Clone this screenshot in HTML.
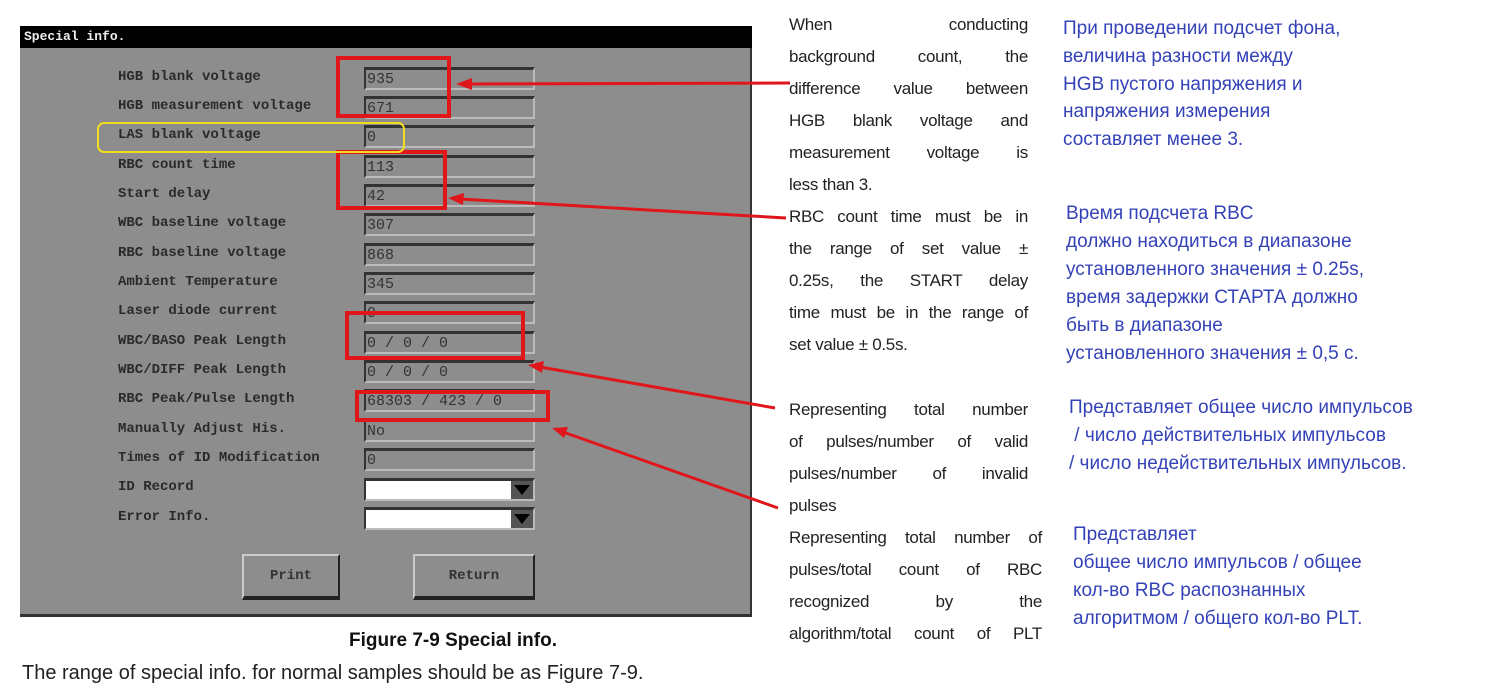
<!DOCTYPE html>
<html><head><meta charset="utf-8"><style>
body{margin:0;width:1500px;height:688px;background:#fff;position:relative;overflow:hidden;font-family:"Liberation Sans",sans-serif}
.p{position:absolute;left:20px;top:26px;width:732px;height:591px;background:#8d8d8d;border-bottom:3px solid #333;border-right:2px solid #333;box-sizing:border-box}
.tb{position:absolute;left:20px;top:26px;width:732px;height:22px;background:#000;color:#eee;font:bold 13px "Liberation Mono",monospace;line-height:22px;padding-left:4px;box-sizing:border-box}
.l{position:absolute;left:118px;font:bold 14px "Liberation Mono",monospace;color:#2a2a2a;line-height:16px}
.f{position:absolute;left:364px;width:171px;height:23px;box-sizing:border-box;border-top:3px solid #333;border-left:2px solid #333;border-bottom:2px solid #bbb;border-right:2px solid #bbb;font:15px "Liberation Mono",monospace;color:#333;line-height:19px;padding-left:1px}
.w{background:#fff}
.dd{position:absolute;right:0;top:0;width:22px;height:18px;background:#555}
.dd:after{content:"";position:absolute;left:3px;top:4px;border-left:8px solid transparent;border-right:8px solid transparent;border-top:10px solid #000}
.b{position:absolute;top:554px;height:46px;box-sizing:border-box;background:#8d8d8d;border:2px solid #ccc;border-right-color:#222;border-bottom:4px solid #222;font:bold 14px "Liberation Mono",monospace;color:#333;text-align:center;line-height:40px}
.e{position:absolute;left:789px;width:239px;font-size:17px;color:#222;text-align:justify;text-align-last:justify;letter-spacing:-0.3px;line-height:20px;white-space:nowrap}
.e.x{width:253px}
.e.n{text-align-last:left}
.r{position:absolute;font-size:19px;color:#3442b8;line-height:22px;white-space:nowrap}
.rb{position:absolute;border:4px solid #e0161b;box-sizing:border-box}
</style></head><body>
<div class="p"></div>
<div class="tb">Special info.</div>

<div class="l" style="top:69px">HGB blank voltage</div>
<div class="l" style="top:98px">HGB measurement voltage</div>
<div class="l" style="top:127px">LAS blank voltage</div>
<div class="l" style="top:157px">RBC count time</div>
<div class="l" style="top:186px">Start delay</div>
<div class="l" style="top:215px">WBC baseline voltage</div>
<div class="l" style="top:245px">RBC baseline voltage</div>
<div class="l" style="top:274px">Ambient Temperature</div>
<div class="l" style="top:303px">Laser diode current</div>
<div class="l" style="top:333px">WBC/BASO Peak Length</div>
<div class="l" style="top:362px">WBC/DIFF Peak Length</div>
<div class="l" style="top:391px">RBC Peak/Pulse Length</div>
<div class="l" style="top:421px">Manually Adjust His.</div>
<div class="l" style="top:450px">Times of ID Modification</div>
<div class="l" style="top:479px">ID Record</div>
<div class="l" style="top:509px">Error Info.</div>

<div class="f" style="top:67px">935</div>
<div class="f" style="top:96px">671</div>
<div class="f" style="top:125px">0</div>
<div class="f" style="top:155px">113</div>
<div class="f" style="top:184px">42</div>
<div class="f" style="top:213px">307</div>
<div class="f" style="top:243px">868</div>
<div class="f" style="top:272px">345</div>
<div class="f" style="top:301px">0</div>
<div class="f" style="top:331px">0 / 0 / 0</div>
<div class="f" style="top:360px">0 / 0 / 0</div>
<div class="f" style="top:389px">68303 / 423 / 0</div>
<div class="f" style="top:419px">No</div>
<div class="f" style="top:448px">0</div>
<div class="f w" style="top:478px"><div class="dd"></div></div>
<div class="f w" style="top:507px"><div class="dd"></div></div>

<div class="b" style="left:242px;width:98px">Print</div>
<div class="b" style="left:413px;width:122px">Return</div>

<div class="rb" style="left:336px;top:56px;width:115px;height:62px"></div>
<div class="rb" style="left:336px;top:150px;width:111px;height:60px"></div>
<div class="rb" style="left:345px;top:311px;width:180px;height:49px"></div>
<div class="rb" style="left:355px;top:390px;width:195px;height:32px"></div>
<div style="position:absolute;left:97px;top:122px;width:308px;height:31px;border:2px solid #f2dc1e;border-radius:7px;box-sizing:border-box"></div>

<svg style="position:absolute;left:0;top:0" width="1500" height="688">
<g stroke="#e0161b" stroke-width="3" fill="#e0161b">
<line x1="790" y1="83" x2="468" y2="84"/><polygon points="456,84 472,78 472,90" stroke="none"/>
<line x1="786" y1="218" x2="460" y2="199"/><polygon points="448,198 464,193 463,205" stroke="none"/>
<line x1="775" y1="408" x2="540" y2="367"/><polygon points="528,365 544,361 542,373" stroke="none"/>
<line x1="778" y1="508" x2="563" y2="432"/><polygon points="552,428 568,427 564,438" stroke="none"/>
</g></svg>

<div class="e" style="top:15px">When conducting</div>
<div class="e" style="top:47px">background count, the</div>
<div class="e" style="top:79px">difference value between</div>
<div class="e" style="top:111px">HGB blank voltage and</div>
<div class="e" style="top:143px">measurement voltage is</div>
<div class="e n" style="top:175px">less than 3.</div>
<div class="e" style="top:207px">RBC count time must be in</div>
<div class="e" style="top:239px">the range of set value ±</div>
<div class="e" style="top:271px">0.25s, the START delay</div>
<div class="e" style="top:303px">time must be in the range of</div>
<div class="e n" style="top:335px">set value ± 0.5s.</div>
<div class="e" style="top:400px">Representing total number</div>
<div class="e" style="top:432px">of pulses/number of valid</div>
<div class="e" style="top:464px">pulses/number of invalid</div>
<div class="e n" style="top:496px">pulses</div>
<div class="e x" style="top:528px">Representing total number of</div>
<div class="e x" style="top:560px">pulses/total count of RBC</div>
<div class="e x" style="top:592px">recognized by the</div>
<div class="e x" style="top:624px">algorithm/total count of PLT</div>

<div class="r" style="left:1063px;top:18px">При проведении подсчет фона,</div>
<div class="r" style="left:1063px;top:46px">величина разности между</div>
<div class="r" style="left:1063px;top:74px">HGB пустого напряжения и</div>
<div class="r" style="left:1063px;top:101px">напряжения измерения</div>
<div class="r" style="left:1063px;top:129px">составляет менее 3.</div>
<div class="r" style="left:1066px;top:203px">Время подсчета RBC</div>
<div class="r" style="left:1066px;top:231px">должно находиться в диапазоне</div>
<div class="r" style="left:1066px;top:259px">установленного значения ± 0.25s,</div>
<div class="r" style="left:1066px;top:287px">время задержки СТАРТА должно</div>
<div class="r" style="left:1066px;top:315px">быть в диапазоне</div>
<div class="r" style="left:1066px;top:343px">установленного значения ± 0,5 с.</div>
<div class="r" style="left:1069px;top:397px">Представляет общее число импульсов</div>
<div class="r" style="left:1069px;top:425px">&nbsp;/ число действительных импульсов</div>
<div class="r" style="left:1069px;top:453px">/ число недействительных импульсов.</div>
<div class="r" style="left:1073px;top:524px">Представляет</div>
<div class="r" style="left:1073px;top:552px">общее число импульсов / общее</div>
<div class="r" style="left:1073px;top:580px">кол-во RBC распознанных</div>
<div class="r" style="left:1073px;top:608px">алгоритмом / общего кол-во PLT.</div>

<div style="position:absolute;left:349px;top:630px;font-weight:bold;font-size:19px;color:#111">Figure 7-9 Special info.</div>
<div style="position:absolute;left:22px;top:662px;font-size:20px;color:#222">The range of special info. for normal samples should be as Figure 7-9.</div>
</body></html>
